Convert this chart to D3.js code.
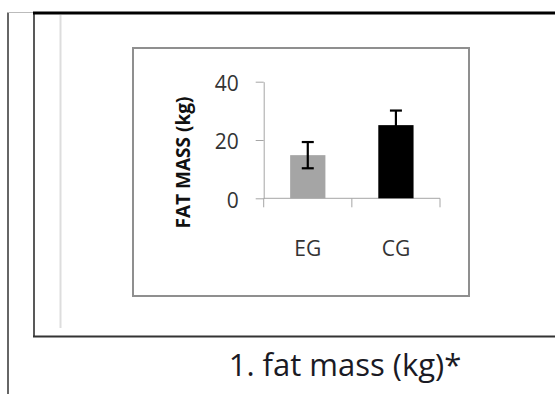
<!DOCTYPE html>
<html>
<head>
<meta charset="utf-8">
<script src="https://cdn.jsdelivr.net/npm/d3@7"></script>
<style>
  html, body { margin: 0; padding: 0; background: #fff; }
  svg { display: block; font-family: "Open Sans", sans-serif; }
</style>
</head>
<body>
<svg id="main" width="555" height="394"></svg>
<script>
// data
const groups = ["EG", "CG"];
const means = [14.8, 25.1];
const sds = [4.5, 5.0];
const yTicks = [0, 20, 40];
const barColors = ["#a5a5a5", "#000000"];
const yTitle = "FAT MASS (kg)";
const caption = "1. fat mass (kg)*";

const render = () => {
    const svg = d3.select("#main");

    // page frame (the figure is a cut from a document)
    const frame = svg.append("g");
    frame.append("line")
        .attr("x1", 8).attr("y1", 12.5).attr("x2", 8).attr("y2", 394)
        .attr("stroke", "#333").attr("stroke-width", 1.5);
    frame.append("line")
        .attr("x1", 8).attr("y1", 12.5).attr("x2", 34).attr("y2", 12.5)
        .attr("stroke", "#bbb").attr("stroke-width", 1);
    frame.append("line")
        .attr("x1", 34).attr("y1", 12).attr("x2", 34).attr("y2", 337)
        .attr("stroke", "#222").attr("stroke-width", 1.5);
    frame.append("line")
        .attr("x1", 33).attr("y1", 13).attr("x2", 555).attr("y2", 13)
        .attr("stroke", "#000").attr("stroke-width", 3);
    frame.append("line")
        .attr("x1", 33).attr("y1", 336.5).attr("x2", 555).attr("y2", 336.5)
        .attr("stroke", "#333").attr("stroke-width", 2);
    frame.append("line")
        .attr("x1", 60.5).attr("y1", 15).attr("x2", 60.5).attr("y2", 328)
        .attr("stroke", "#ddd").attr("stroke-width", 2);

    // chart box
    svg.append("rect")
        .attr("x", 133).attr("y", 48)
        .attr("width", 336).attr("height", 248)
        .attr("fill", "#fff")
        .attr("stroke", "#8f8f8f")
        .attr("stroke-width", 2);

    const yScale = d3.scaleLinear([0, 40], [198.3, 81.7]);
    const xScale = d3.scaleBand(groups, [263.7, 440])
        .paddingInner(0.6)
        .paddingOuter(0.3);
    const xEdges = d3.scaleBand(groups, [263.7, 440]);

    // y axis
    const yAxis = svg.append("g")
        .attr("transform", `translate(263.7,0)`)
        .call(d3.axisLeft(yScale).tickValues(yTicks).tickSize(8).tickSizeOuter(0).tickPadding(17));
    yAxis.select(".domain").attr("stroke", "#a6a6a6");
    yAxis.selectAll(".tick line").attr("stroke", "#a6a6a6");
    yAxis.selectAll(".tick text")
        .attr("font-family", "Open Sans")
        .attr("font-size", 21)
        .attr("fill", "#333")
        .attr("dy", "0.42em");

    // x axis with ticks between categories
    const xAxis = svg.append("g");
    xAxis.append("line")
        .attr("x1", xEdges.range()[0]).attr("x2", xEdges.range()[1])
        .attr("y1", yScale(0)).attr("y2", yScale(0))
        .attr("stroke", "#a6a6a6");
    const edges = groups.map(d => xEdges(d)).concat([xEdges.range()[1]]);
    xAxis.selectAll("line.tick")
        .data(edges)
        .join("line")
        .attr("class", "tick")
        .attr("x1", d => d).attr("x2", d => d)
        .attr("y1", yScale(0)).attr("y2", yScale(0) + 9)
        .attr("stroke", "#a6a6a6");
    xAxis.selectAll("text")
        .data(groups)
        .join("text")
        .attr("x", d => xScale(d) + xScale.bandwidth() / 2)
        .attr("y", 255.5)
        .attr("text-anchor", "middle")
        .attr("font-size", 21)
        .attr("fill", "#333")
        .text(d => d);

    // bars
    svg.append("g")
        .selectAll("rect")
        .data(groups)
        .join("rect")
        .attr("x", d => xScale(d))
        .attr("y", (d, i) => yScale(means[i]))
        .attr("width", xScale.bandwidth())
        .attr("height", (d, i) => yScale(0) - yScale(means[i]))
        .attr("fill", (d, i) => barColors[i]);

    // error bars
    const err = svg.append("g")
        .attr("stroke", "#000")
        .attr("stroke-width", 2.2)
        .selectAll("g")
        .data(groups)
        .join("g");
    const cx = d => xScale(d) + xScale.bandwidth() / 2;
    err.append("line")
        .attr("x1", cx).attr("x2", cx)
        .attr("y1", (d, i) => yScale(means[i] + sds[i]))
        .attr("y2", (d, i) => yScale(means[i] - sds[i]));
    err.append("line")
        .attr("x1", d => cx(d) - 6).attr("x2", d => cx(d) + 6)
        .attr("y1", (d, i) => yScale(means[i] + sds[i]))
        .attr("y2", (d, i) => yScale(means[i] + sds[i]));
    err.append("line")
        .attr("x1", d => cx(d) - 6).attr("x2", d => cx(d) + 6)
        .attr("y1", (d, i) => yScale(means[i] - sds[i]))
        .attr("y2", (d, i) => yScale(means[i] - sds[i]));

    // y axis title
    svg.append("text")
        .attr("transform", "translate(190,162.5) rotate(-90)")
        .attr("text-anchor", "middle")
        .attr("font-size", 19)
        .attr("font-weight", "bold")
        .attr("fill", "#111")
        .text(yTitle);

    // caption under the figure
    svg.append("text")
        .attr("x", 345)
        .attr("y", 376)
        .attr("text-anchor", "middle")
        .attr("font-size", 31)
        .attr("fill", "#1a1a24")
        .text(caption);
};

render();
</script>
</body>
</html>
